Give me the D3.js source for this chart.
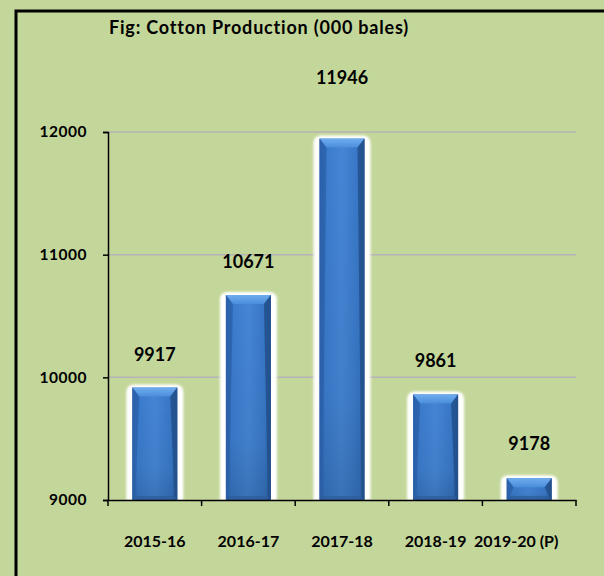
<!DOCTYPE html>
<html><head><meta charset="utf-8">
<script src="https://cdn.jsdelivr.net/npm/d3@7"></script>
<style>html,body{margin:0;padding:0;background:#c4d79b;}svg{display:block;}text{font-variant-ligatures:none;}</style>
</head><body>
<script>
const categories = ["2015-16", "2016-17", "2017-18", "2018-19", "2019-20 (P)"];
const production = [9917, 10671, 11946, 9861, 9178];
const yTicks = [9000, 10000, 11000, 12000];
const labelGap = [33, 33, 61, 34, 34];
const catLabelShift = [0, 0, 0, 0, -13];
const title = "Fig: Cotton Production (000 bales)";

const W = 604, H = 576;
const svg = d3.select("body").append("svg").attr("width", W).attr("height", H);
svg.append("rect").attr("width", W).attr("height", H).attr("fill", "#c4d79b");
svg.append("rect").attr("x", 16).attr("y", 11).attr("width", 700).attr("height", 700)
  .attr("fill", "none").attr("stroke", "#000").attr("stroke-width", 3);

const font = "Lato, 'Open Sans', sans-serif";
const x = d3.scaleBand().domain(categories).range([108, 576]).padding(0);
const y = d3.scaleLinear().domain([9000, 12000]).range([500, 132]);

const defs = svg.append("defs");
const g1 = defs.append("linearGradient").attr("id", "bh").attr("x1", 0).attr("x2", 1).attr("y1", 0).attr("y2", 0);
[[0, "#2c64ae"], [0.12, "#3a7acb"], [0.5, "#4585d4"], [0.88, "#3776c5"], [1, "#28599b"]]
  .forEach(([o, c]) => g1.append("stop").attr("offset", o).attr("stop-color", c));
const gv = defs.append("linearGradient").attr("id", "bv").attr("x1", 0).attr("x2", 0).attr("y1", 0).attr("y2", 1);
[[0, "#000", 0], [0.7, "#000", 0.04], [1, "#000", 0.14]]
  .forEach(([o, c, a]) => gv.append("stop").attr("offset", o).attr("stop-color", c).attr("stop-opacity", a));
const g2 = defs.append("linearGradient").attr("id", "tb").attr("x1", 0).attr("x2", 0).attr("y1", 0).attr("y2", 1);
[[0, "#70adee"], [1, "#4a8ddb"]].forEach(([o, c]) => g2.append("stop").attr("offset", o).attr("stop-color", c));
const f = defs.append("filter").attr("id", "glow").attr("x", "-30%").attr("y", "-30%").attr("width", "160%").attr("height", "160%");
f.append("feGaussianBlur").attr("stdDeviation", 1.2);

svg.append("g").selectAll("line").data(yTicks.filter(d => d > 9000)).join("line")
  .attr("x1", 108).attr("x2", 576).attr("y1", d => y(d)).attr("y2", d => y(d))
  .attr("stroke", "#b4b4b4").attr("stroke-width", 1.5);

const bw = 45, halo = 6;
const bars = svg.append("g").selectAll("g").data(production).join("g");
bars.each(function(v, i) {
  const g = d3.select(this);
  const cx = x(categories[i]) + x.bandwidth() / 2;
  const x0 = cx - bw / 2, x1 = cx + bw / 2, yt = y(v), yb = y(9000);
  const hx0 = x0 - halo, hx1 = x1 + halo, hy = yt - 3, r = 8;
  g.append("path").attr("filter", "url(#glow)")
    .attr("d", `M${hx0},${yb} L${hx0},${hy + r} Q${hx0},${hy} ${hx0 + r},${hy} L${hx1 - r},${hy} Q${hx1},${hy} ${hx1},${hy + r} L${hx1},${yb} Z`)
    .attr("fill", "#ffffff");
  g.append("rect").attr("x", x0).attr("y", yt).attr("width", bw).attr("height", yb - yt).attr("fill", "url(#bh)");
  g.append("rect").attr("x", x0).attr("y", yt).attr("width", bw).attr("height", yb - yt).attr("fill", "url(#bv)");
  const bv = Math.min(9, (yb - yt) / 2);
  g.append("path").attr("d", `M${x0},${yt} L${x1},${yt} L${x1 - 7},${yt + bv} L${x0 + 7},${yt + bv} Z`).attr("fill", "url(#tb)");
  g.append("path").attr("d", `M${x0},${yt} L${x0 + 7},${yt + bv} L${x0 + 3},${yb - 4} L${x0},${yb} Z`).attr("fill", "#2a60a9").attr("opacity", 0.8);
  g.append("path").attr("d", `M${x1},${yt} L${x1 - 7},${yt + bv} L${x1 - 3},${yb - 4} L${x1},${yb} Z`).attr("fill", "#22508b").attr("opacity", 0.85);
  g.append("rect").attr("x", x0 + 3).attr("y", yb - 4).attr("width", bw - 6).attr("height", 4).attr("fill", "#2c5d99").attr("opacity", 0.7);
  g.append("text").attr("x", cx).attr("y", yt - labelGap[i]).attr("dy", "0.35em")
    .attr("text-anchor", "middle").attr("font-family", font).attr("font-weight", "bold")
    .attr("font-size", 18).attr("fill", "#000").text(v);
});

const yAxis = svg.append("g").attr("transform", "translate(108,0)")
  .call(d3.axisLeft(y).tickValues(yTicks).tickSize(5).tickFormat(d3.format("d")));
yAxis.select(".domain").attr("stroke", "#000").attr("stroke-width", 1.5);
yAxis.selectAll(".tick line").attr("stroke", "#000").attr("stroke-width", 1.5);
yAxis.selectAll("text").attr("x", -21).attr("font-family", font).attr("font-weight", "bold")
  .attr("font-size", 15.5).attr("letter-spacing", 0.5).attr("fill", "#000");

const xAxis = svg.append("g").attr("transform", "translate(0,500)")
  .call(d3.axisBottom(x).tickSize(0).tickSizeOuter(0));
xAxis.select(".domain").attr("stroke", "#000").attr("stroke-width", 1.5);
xAxis.selectAll("text").attr("y", 41).attr("dy", "0.35em").attr("dx", (d, i) => catLabelShift[i])
  .attr("font-family", font).attr("font-weight", "bold")
  .attr("font-size", 16).attr("fill", "#000");
const bounds = categories.map(c => x(c)).concat([x.range()[1]]);
svg.append("g").selectAll("line").data(bounds).join("line")
  .attr("x1", d => d).attr("x2", d => d).attr("y1", 500).attr("y2", 506)
  .attr("stroke", "#000").attr("stroke-width", 1.5);

svg.append("text").attr("x", 109).attr("y", 28).attr("dy", "0.35em")
  .attr("font-family", font).attr("font-weight", "bold").attr("font-size", 18)
  .attr("letter-spacing", 0.8).attr("fill", "#000").text(title);
</script>
</body></html>
